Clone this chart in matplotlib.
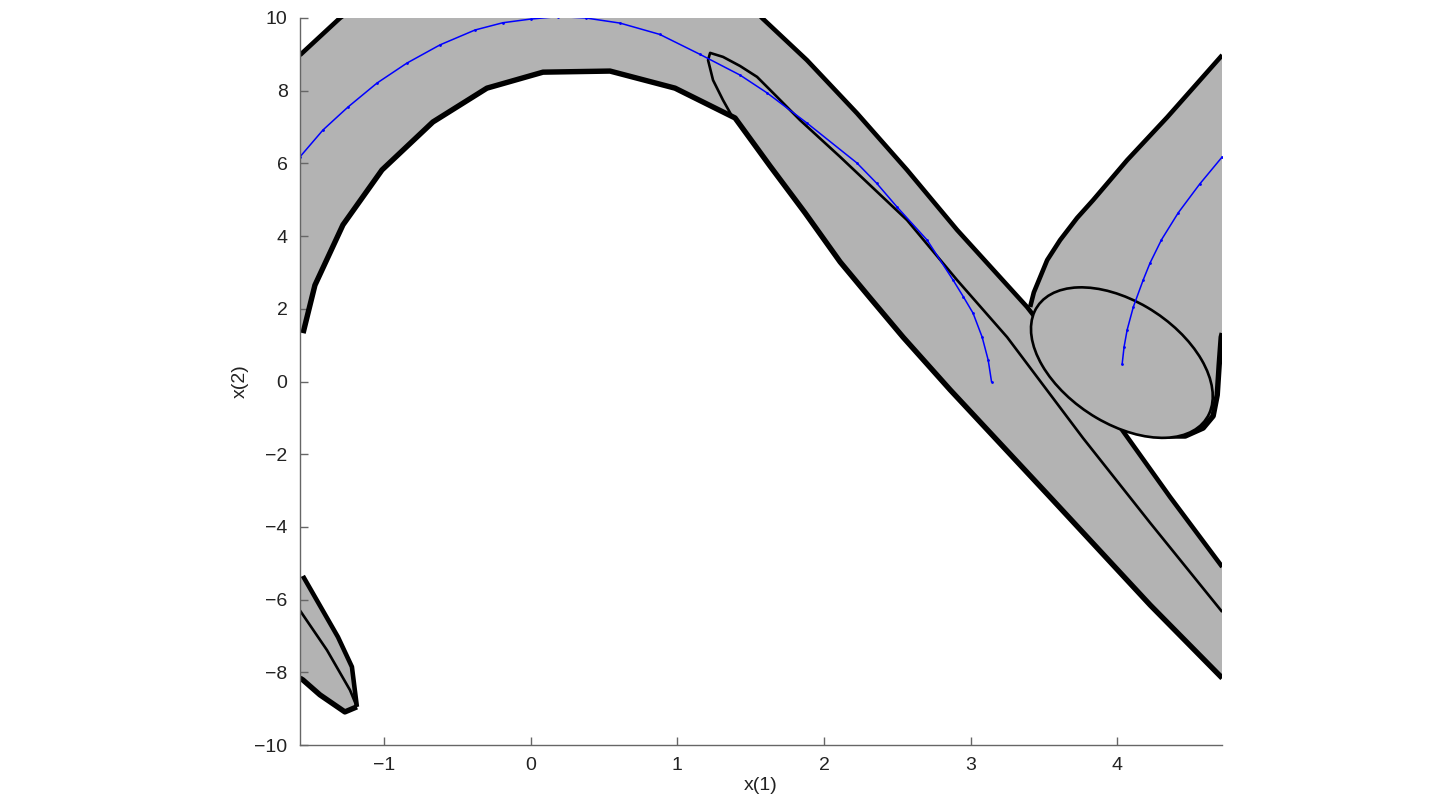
import numpy as np
import matplotlib.pyplot as plt
from matplotlib.patches import Ellipse

# reach tube of the pendulum, x(1) wrapped to [-pi/2, 3pi/2]
# all outline points

# upper edge of the tube (arc over the top, then down the diagonal)
upper_x = [-1.571, -1.298, -0.9, -0.3, 0.4, 1.0, 1.35, 1.578, 1.884, 2.225, 2.566, 2.907, 3.384, 3.998, 4.359, 4.714]
upper_y = [8.98, 10.0, 11.2, 12.0, 12.2, 11.8, 11.0, 10.0, 8.84, 7.38, 5.82, 4.17, 2.05, -1.14, -3.18, -5.10]

# lower edge of the tube
lower_x = [-1.55, -1.469, -1.278, -1.012, -0.665, -0.297, 0.085, 0.542, 0.985, 1.394, 1.632, 1.871, 2.110, 2.314, 2.539, 2.860, 3.541, 4.223, 4.714]
lower_y = [1.33, 2.65, 4.31, 5.82, 7.14, 8.07, 8.51, 8.54, 8.07, 7.25, 5.93, 4.64, 3.29, 2.30, 1.22, -0.23, -3.18, -6.15, -8.16]

# start of the tube leaving the initial set
start_left_x = [3.405, 3.430, 3.473, 3.521, 3.609, 3.725, 3.834, 4.066, 4.339, 4.714]
start_left_y = [2.05, 2.45, 2.87, 3.34, 3.89, 4.50, 4.99, 6.09, 7.27, 8.98]
start_right_x = [4.018, 4.121, 4.291, 4.462, 4.584, 4.652, 4.680, 4.693, 4.707, 4.714]
start_right_y = [-1.06, -1.33, -1.50, -1.50, -1.28, -0.95, -0.37, 0.45, 1.22, 1.33]

# piece that wrapped round to the bottom left
wrap_outer_x = [-1.571, -1.551, -1.312, -1.217, -1.183]
wrap_outer_y = [-5.35, -5.35, -7.03, -7.85, -8.95]
wrap_lower_x = [-1.183, -1.265, -1.435, -1.551, -1.571]
wrap_lower_y = [-8.95, -9.09, -8.62, -8.21, -8.16]
wrap_mid_x = [-1.571, -1.387, -1.230, -1.183]
wrap_mid_y = [-6.30, -7.39, -8.49, -8.95]

# final set (thin stretched ellipse), visible part of its outline
final_x = [1.380, 1.312, 1.244, 1.210, 1.224, 1.312, 1.428, 1.544, 1.680, 1.837, 2.110, 2.566, 2.907, 3.248, 3.766, 4.223, 4.714]
final_y = [7.25, 7.74, 8.29, 8.84, 9.04, 8.93, 8.68, 8.38, 7.83, 7.19, 6.18, 4.44, 2.79, 1.22, -1.56, -3.89, -6.34]

# initial set
ell_center = (4.03, 0.52)
ell_width = 4.18
ell_height = 1.097
ell_angle = -81.8

# nominal trajectory, in two pieces because of the wrap
traj1_x = [4.032, 4.045, 4.066, 4.108, 4.175, 4.222, 4.300, 4.414, 4.560, 4.714]
traj1_y = [0.48, 0.95, 1.42, 2.05, 2.79, 3.26, 3.90, 4.64, 5.43, 6.18]
traj2_x = [-1.571, -1.414, -1.244, -1.046, -0.842, -0.617, -0.378, -0.188, 0.0, 0.19, 0.378, 0.61, 0.88,
           1.155, 1.428, 1.612, 1.884, 2.225, 2.360, 2.498, 2.703, 2.880, 2.950, 3.016, 3.078, 3.119, 3.1416]
traj2_y = [6.18, 6.92, 7.55, 8.21, 8.76, 9.26, 9.67, 9.87, 9.97, 10.04, 10.0, 9.86, 9.55,
           9.0, 8.43, 7.94, 7.11, 6.01, 5.45, 4.80, 3.89, 2.79, 2.33, 1.88, 1.22, 0.59, 0.0]

grey = '#b3b3b3'
thick = 3.3
thin = 1.9

plt.rcParams['font.family'] = ['Liberation Sans', 'DejaVu Sans']
fig = plt.figure(figsize=(14.4, 8.1), dpi=100)
ax = fig.add_axes([300/1440, 65/810, 922/1440, 727/810])

# fills
arc_x = upper_x + [4.714] + lower_x[::-1] + [-1.571]
arc_y = upper_y + [-8.16] + lower_y[::-1] + [1.33]
ax.fill(arc_x, arc_y, color=grey, lw=0, zorder=1)
st_x = start_left_x + start_right_x[::-1]
st_y = start_left_y + start_right_y[::-1]
ax.fill(st_x, st_y, color=grey, lw=0, zorder=1)
ax.fill(wrap_outer_x + wrap_lower_x[1:], wrap_outer_y + wrap_lower_y[1:], color=grey, lw=0, zorder=1)

# tube edges
kw = dict(color='k', solid_joinstyle='round', solid_capstyle='butt', zorder=2)
ax.plot(upper_x[:3], upper_y[:3], lw=thick, **kw)
ax.plot(upper_x[6:], upper_y[6:], lw=thick, **kw)
ax.plot(lower_x, lower_y, lw=thick + 0.6, **kw)
ax.plot(start_left_x, start_left_y, lw=thick, **kw)
ax.plot(start_right_x, start_right_y, lw=thick + 0.6, **kw)
ax.plot(wrap_outer_x[1:], wrap_outer_y[1:], lw=thick, **kw)
ax.plot(wrap_lower_x, wrap_lower_y, lw=thick + 0.6, **kw)

# final set
ax.plot(final_x, final_y, lw=thin, **kw)
ax.plot(wrap_mid_x, wrap_mid_y, lw=thin, **kw)

# initial set
ax.add_patch(Ellipse(ell_center, ell_width, ell_height, angle=ell_angle,
                     facecolor=grey, edgecolor='k', lw=thin, zorder=3))

# trajectory
ax.plot(traj1_x, traj1_y, color='b', lw=1.1, marker='.', ms=2, zorder=4)
ax.plot(traj2_x, traj2_y, color='b', lw=1.1, marker='.', ms=2, zorder=4)

ax.set_xlim(-np.pi/2, 3*np.pi/2)
ax.set_ylim(-10, 10)
ax.set_xticks([-1, 0, 1, 2, 3, 4])
ax.set_yticks(range(-10, 11, 2))
ax.spines['top'].set_visible(False)
ax.spines['right'].set_visible(False)
for s in ['left', 'bottom']:
    ax.spines[s].set_color('#666666')
    ax.spines[s].set_linewidth(1.0)
    ax.spines[s].set_zorder(5)
ax.tick_params(direction='in', length=6, width=1.0, color='#666666',
               labelsize=14, labelcolor='#222222', pad=9)
ax.set_xlabel('x(1)', fontsize=14, color='#222222', labelpad=2)
ax.set_ylabel('x(2)', fontsize=14, color='#222222', labelpad=4)

fig.savefig('out.png', dpi=100)
